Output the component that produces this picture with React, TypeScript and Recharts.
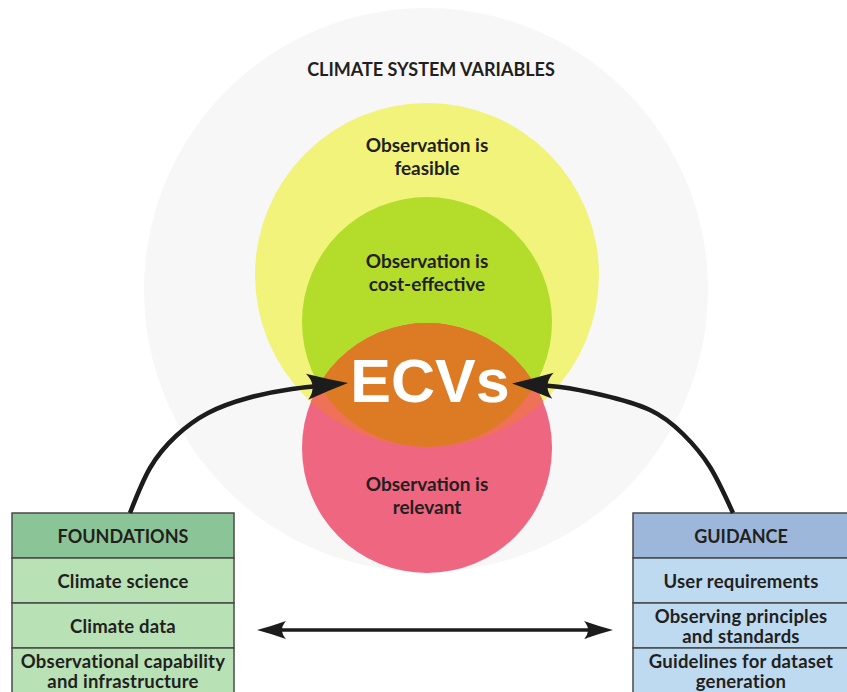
import React from "react"
import { ComposedChart, XAxis, YAxis, Scatter, Line, ReferenceArea, Customized } from "recharts"

const CHART_W = 847
const CHART_H = 692
const FONT = "Lato, 'Open Sans', sans-serif"
const INK = "#231f20"

// circles (data units == pixels because the domain matches the chart size)
const CIRCLE_NAMES = ["system", "feasible", "costEffective", "relevant", "relevantFeasible", "ecv"]
const CIRCLE_X = [426, 427, 427, 427, 427, 427]
const CIRCLE_Y = [290, 275, 322, 448, 448, 322]
const CIRCLE_R = [282, 172, 125, 125, 125, 125]
const CIRCLE_CLIP = ["", "", "", "", "feasible", "relevant"]

const CIRCLE_FILL: { [key: string]: string } = {
  system: "#f7f7f8",
  feasible: "#f2f37b",
  costEffective: "#b3dc2b",
  relevant: "#ef6681",
  relevantFeasible: "#ef7157",
  ecv: "#dc7b23",
}

// text inside the circles
const LABEL_NAMES = ["title", "feasible", "costEffective", "ecv", "relevant"]
const LABEL_LINES = [
  ["CLIMATE SYSTEM VARIABLES"],
  ["Observation is", "feasible"],
  ["Observation is", "cost-effective"],
  ["ECVs"],
  ["Observation is", "relevant"],
]
const LABEL_X = [431, 427, 427, 430, 427]
const LABEL_Y = [69, 155, 271, 381, 494]

// side tables
const FOUNDATION_ROWS = [["FOUNDATIONS"], ["Climate science"], ["Climate data"], ["Observational capability", "and infrastructure"]]
const GUIDANCE_ROWS = [["GUIDANCE"], ["User requirements"], ["Observing principles", "and standards"], ["Guidelines for dataset", "generation"]]
const ROW_TOPS = [513, 558, 603, 648]
const ROW_BOTTOMS = [558, 603, 648, 694]
const FOUNDATION_SPAN = [12, 234]
const GUIDANCE_SPAN = [633, 849]

// arrows
const LEFT_ARC = [
  { x: 130, y: 513 },
  { x: 150, y: 468 },
  { x: 176, y: 436 },
  { x: 208, y: 413 },
  { x: 248, y: 398 },
  { x: 292, y: 389 },
  { x: 338, y: 384 },
]
const RIGHT_ARC = [
  { x: 733, y: 513 },
  { x: 710, y: 467 },
  { x: 683, y: 434 },
  { x: 650, y: 410 },
  { x: 602, y: 395 },
  { x: 560, y: 387 },
  { x: 522, y: 384 },
]
const LINK = [
  { x: 265, y: 630 },
  { x: 605, y: 630 },
]

const circleData = CIRCLE_NAMES.map((name, i) => ({
  name,
  x: CIRCLE_X[i],
  y: CIRCLE_Y[i],
  r: CIRCLE_R[i],
  clip: CIRCLE_CLIP[i],
}))

const labelData = LABEL_NAMES.map((name, i) => ({
  name,
  x: LABEL_X[i],
  y: LABEL_Y[i],
  lines: LABEL_LINES[i],
}))

const PX_PER_UNIT = CHART_W / CHART_W

const CircleShape = (props: any) => {
  const { cx, cy, payload } = props
  const r = payload.r * PX_PER_UNIT
  return (
    <g>
      <clipPath id={`clip-${payload.name}`}>
        <circle cx={cx} cy={cy} r={r} />
      </clipPath>
      <circle
        cx={cx}
        cy={cy}
        r={r}
        fill={CIRCLE_FILL[payload.name]}
        clipPath={payload.clip ? `url(#clip-${payload.clip})` : undefined}
      />
    </g>
  )
}

const LabelShape = (props: any) => {
  const { cx, cy, payload } = props
  const isEcv = payload.name === "ecv"
  const size = isEcv ? 61 : payload.name === "title" ? 18 : 19
  const lh = 23
  const lines: string[] = payload.lines
  return (
    <text
      x={cx}
      textAnchor="middle"
      fontFamily={isEcv ? "'Liberation Sans', Arial, sans-serif" : FONT}
      fontSize={size}
      fontWeight={700}
      fill={isEcv ? "#ffffff" : INK}
      dominantBaseline="central"
    >
      {lines.map((line, i) => (
        <tspan key={i} x={cx} y={cy + (i - (lines.length - 1) / 2) * lh} dominantBaseline="central">
          {line}
        </tspan>
      ))}
    </text>
  )
}

const BoxText = (props: any) => {
  const { viewBox, lines, head } = props
  const cx = viewBox.x + viewBox.width / 2
  const cy = viewBox.y + viewBox.height / 2
  const lh = 20
  return (
    <text
      x={cx}
      textAnchor="middle"
      fontFamily={FONT}
      fontSize={head ? 18 : 18.5}
      fontWeight={700}
      letterSpacing={head ? 0 : 0.2}
      fill={INK}
      dominantBaseline="central"
    >
      {lines.map((line: string, i: number) => (
        <tspan key={i} x={cx} y={cy + (i - (lines.length - 1) / 2) * lh} dominantBaseline="central">
          {line}
        </tspan>
      ))}
    </text>
  )
}

const ArrowDefs = () => (
  <defs>
    <marker
      id="barb-big"
      viewBox="0 0 42 28"
      refX={32}
      refY={14}
      markerWidth={42}
      markerHeight={28}
      markerUnits="userSpaceOnUse"
      orient="auto-start-reverse"
    >
      <path d="M42,14 Q21,8 1,1 Q12,14 1,27 Q21,20 42,14 Z" fill="#1c1c1c" />
    </marker>
    <marker
      id="barb-small"
      viewBox="0 0 30 18"
      refX={22}
      refY={9}
      markerWidth={30}
      markerHeight={18}
      markerUnits="userSpaceOnUse"
      orient="auto-start-reverse"
    >
      <path d="M30,9 Q15,5 1,0 Q9,9 1,18 Q15,13 30,9 Z" fill="#1c1c1c" />
    </marker>
  </defs>
)

const boxRows = (rows: string[][], span: number[], headFill: string, rowFill: string, key: string) =>
  rows.map((lines, i) => (
    <ReferenceArea
      key={`${key}-${i}`}
      x1={span[0]}
      x2={span[1]}
      y1={ROW_TOPS[i]}
      y2={ROW_BOTTOMS[i]}
      fill={i === 0 ? headFill : rowFill}
      fillOpacity={1}
      stroke="#4a4a4a"
      strokeWidth={1.5}
      ifOverflow="visible"
      zIndex={200}
      label={<BoxText lines={lines} head={i === 0} />}
    />
  ))

export default function App() {
  return (
    <div style={{ position: "absolute", left: 0, top: 0, width: CHART_W, height: CHART_H, background: "#ffffff" }}>
      <ComposedChart width={CHART_W} height={CHART_H} margin={{ top: 0, right: 0, bottom: 0, left: 0 }}>
        <XAxis type="number" dataKey="x" domain={[0, CHART_W]} allowDataOverflow hide />
        <YAxis type="number" dataKey="y" domain={[0, CHART_H]} allowDataOverflow reversed hide />
        <Customized component={ArrowDefs} />

        <Scatter data={circleData} dataKey="y" shape={CircleShape} isAnimationActive={false} zIndex={100} />

        {boxRows(FOUNDATION_ROWS, FOUNDATION_SPAN, "#8bc597", "#b8e1b5", "found")}
        {boxRows(GUIDANCE_ROWS, GUIDANCE_SPAN, "#9cb7d9", "#bddaf0", "guide")}

        <Line
          data={LEFT_ARC}
          dataKey="y"
          type="natural"
          stroke="#1c1c1c"
          strokeWidth={4.5}
          dot={false}
          activeDot={false}
          markerEnd="url(#barb-big)"
          isAnimationActive={false}
          zIndex={400}
        />
        <Line
          data={RIGHT_ARC}
          dataKey="y"
          type="natural"
          stroke="#1c1c1c"
          strokeWidth={4.5}
          dot={false}
          activeDot={false}
          markerEnd="url(#barb-big)"
          isAnimationActive={false}
          zIndex={400}
        />
        <Line
          data={LINK}
          dataKey="y"
          type="linear"
          stroke="#1c1c1c"
          strokeWidth={3.5}
          dot={false}
          activeDot={false}
          markerStart="url(#barb-small)"
          markerEnd="url(#barb-small)"
          isAnimationActive={false}
          zIndex={400}
        />

        <Scatter data={labelData} dataKey="y" shape={LabelShape} isAnimationActive={false} zIndex={700} />
      </ComposedChart>
    </div>
  )
}
